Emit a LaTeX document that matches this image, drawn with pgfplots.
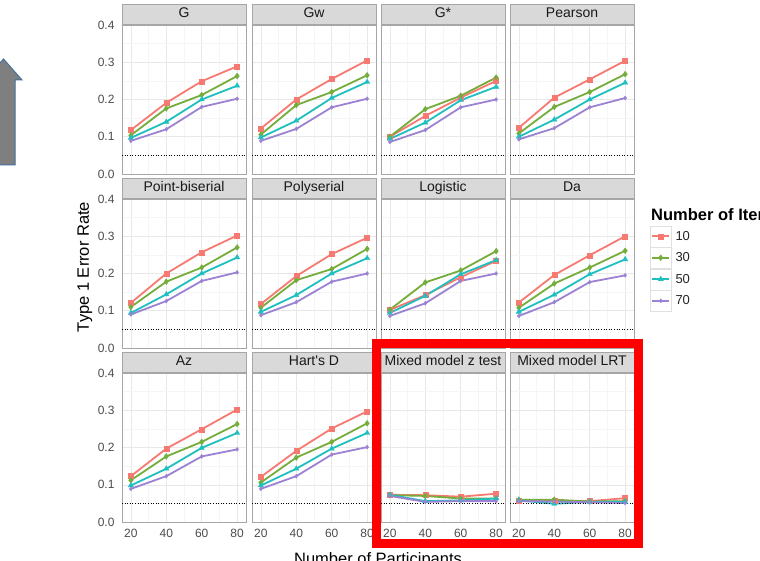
\documentclass[border=0pt]{standalone}
\usepackage{pgfplots}
\pgfplotsset{compat=1.18}
\usepackage{pgfplotstable}
\usepackage{fontspec}
\setmainfont{Liberation Sans}

\definecolor{c10}{HTML}{F77A72}
\definecolor{c30}{HTML}{74AD3A}
\definecolor{c50}{HTML}{1FBFC0}
\definecolor{c70}{HTML}{9C82D2}
\definecolor{arrowfill}{RGB}{127,127,127}
\definecolor{arrowdraw}{RGB}{65,113,156}

\pgfplotstableread{
x a b c d
20 0.118 0.104 0.097 0.089
40 0.191 0.176 0.140 0.120
60 0.249 0.212 0.200 0.180
80 0.289 0.263 0.237 0.202
}\tG
\pgfplotstableread{
x a b c d
20 0.122 0.106 0.098 0.089
40 0.200 0.185 0.143 0.121
60 0.255 0.220 0.204 0.179
80 0.305 0.265 0.247 0.202
}\tGw
\pgfplotstableread{
x a b c d
20 0.100 0.100 0.094 0.086
40 0.156 0.174 0.138 0.118
60 0.205 0.210 0.198 0.179
80 0.250 0.259 0.234 0.200
}\tGstar
\pgfplotstableread{
x a b c d
20 0.124 0.109 0.100 0.093
40 0.205 0.180 0.146 0.123
60 0.254 0.220 0.200 0.179
80 0.304 0.268 0.245 0.204
}\tPearson
\pgfplotstableread{
x a b c d
20 0.121 0.110 0.094 0.090
40 0.200 0.178 0.144 0.126
60 0.257 0.216 0.200 0.180
80 0.302 0.270 0.243 0.203
}\tPB
\pgfplotstableread{
x a b c d
20 0.118 0.108 0.097 0.088
40 0.193 0.182 0.142 0.123
60 0.252 0.212 0.200 0.178
80 0.296 0.266 0.241 0.200
}\tPoly
\pgfplotstableread{
x a b c d
20 0.102 0.103 0.094 0.086
40 0.142 0.176 0.140 0.120
60 0.190 0.208 0.198 0.180
80 0.234 0.260 0.236 0.200
}\tLogistic
\pgfplotstableread{
x a b c d
20 0.122 0.108 0.097 0.086
40 0.196 0.173 0.143 0.123
60 0.249 0.216 0.198 0.177
80 0.300 0.261 0.238 0.195
}\tDa
\pgfplotstableread{
x a b c d
20 0.123 0.112 0.098 0.089
40 0.197 0.176 0.143 0.123
60 0.249 0.215 0.199 0.176
80 0.302 0.263 0.239 0.195
}\tAz
\pgfplotstableread{
x a b c d
20 0.121 0.106 0.098 0.089
40 0.191 0.173 0.143 0.123
60 0.251 0.215 0.197 0.181
80 0.297 0.265 0.239 0.201
}\tHart
\pgfplotstableread{
x a b c d
20 0.073 0.072 0.073 0.070
40 0.072 0.070 0.056 0.054
60 0.068 0.063 0.058 0.056
80 0.076 0.063 0.063 0.056
}\tMZ
\pgfplotstableread{
x a b c d
20 0.058 0.060 0.058 0.056
40 0.056 0.060 0.049 0.055
60 0.056 0.055 0.054 0.053
80 0.064 0.056 0.054 0.051
}\tLRT

\pgfplotsset{
  s10/.style={color=c10, line width=1.8pt, mark=square*, mark size=2.5pt, mark options={solid, line width=0.4pt}},
  s30/.style={color=c30, line width=1.8pt, mark=diamond*, mark size=2.9pt, mark options={solid, line width=0.4pt}},
  s50/.style={color=c50, line width=1.8pt, mark=triangle*, mark size=3.0pt, mark options={solid, line width=0.4pt}},
  s70/.style={color=c70, line width=1.8pt, mark=diamond*, mark size=2.0pt, mark options={solid, line width=0.4pt}},
  hl/.style={black, line width=1pt, dash pattern=on 1pt off 1.6pt, mark=none},
  every axis title shift=0pt,
  panel/.style={
    scale only axis, width=124pt, height=149pt, anchor=south west,
    xmin=15, xmax=85, ymin=0, ymax=0.4,
    xtick={20,40,60,80}, ytick={0,0.1,0.2,0.3,0.4},
    minor xtick={30,50,70}, minor ytick={0.05,0.15,0.25,0.35},
    grid=both,
    major grid style={black!9, line width=0.5pt},
    minor grid style={black!4, line width=0.4pt},
    axis line style={black!35, line width=0.6pt},
    xticklabels={}, yticklabels={},
    major tick length=4pt, minor tick length=0pt,
    tick align=outside,
    xtick style={draw=none}, ytick style={draw=none},
    /pgf/number format/assume math mode=true,
    ticklabel style={font=\fontsize{12}{12}\selectfont, text=black!70},
    title style={at={(0.5,1)}, anchor=south, yshift=0pt,
      fill=black!15, draw=black!35, line width=0.6pt,
      minimum width=124pt, minimum height=20.5pt, inner sep=0pt,
      text height=10pt, text depth=3pt,
      font=\fontsize{14}{14}\selectfont, text=black!90},
    legend image code/.code={
      \draw[black!12, fill=white, line width=0.5pt] (0pt,-10.5pt) rectangle (21pt,10.5pt);
      \draw[mark repeat=2, mark phase=2, ##1] plot coordinates {(2pt,0pt) (10.5pt,0pt) (19pt,0pt)};
    },
  },
  leftcol/.style={yticklabels={0.0,0.1,0.2,0.3,0.4}, ytick style={black!45, line width=0.6pt}},
  bottomrow/.style={xticklabels={20,40,60,80}, xtick style={black!45, line width=0.6pt}},
}

\newcommand{\panel}[6]{%
\begin{axis}[panel, at={(#3pt,#4pt)}, title={#5}, #6]
\addplot[s10] table[x=x,y=a]{#2};
\addplot[s30] table[x=x,y=b]{#2};
\addplot[s50] table[x=x,y=c]{#2};
\addplot[s70] table[x=x,y=d]{#2};
\addplot[hl] coordinates {(15,0.05) (85,0.05)};
\end{axis}}

\begin{document}
\begin{tikzpicture}
\useasboundingbox (0pt,0pt) rectangle (760pt,560pt);
\clip (0pt,0pt) rectangle (760pt,560pt);
\fill[white] (0pt,0pt) rectangle (760pt,560pt);

% arrow on the left
\filldraw[fill=arrowfill, draw=arrowdraw, line width=1pt]
  (3.5pt,501pt) -- (22pt,480pt) -- (15pt,480pt) -- (15pt,395pt) -- (-8pt,395pt) -- (-8pt,480pt) -- (-15pt,480pt) -- cycle;

% row 1
\panel{G}{\tG}{122}{386}{G}{leftcol}
\panel{Gw}{\tGw}{252}{386}{Gw}{}
\panel{Gstar}{\tGstar}{381}{386}{G*}{}
\panel{Pearson}{\tPearson}{510}{386}{Pearson}{}
% row 2
\panel{PB}{\tPB}{122}{212}{Point-biserial}{leftcol}
\panel{Poly}{\tPoly}{252}{212}{Polyserial}{}
\panel{Logistic}{\tLogistic}{381}{212}{Logistic}{}
\panel{Da}{\tDa}{510}{212}{Da}{legend entries={10,30,50,70},
  legend style={at={(axis description cs:1.129,0.822)}, anchor=north west,
    draw=none, fill=none, inner sep=0pt, outer sep=0pt, row sep=0pt,
    font=\fontsize{13}{13}\selectfont, text=black!85,
    /tikz/every odd column/.style={column sep=2pt}},
  legend cell align=left}
% row 3
\panel{Az}{\tAz}{122}{38}{Az}{leftcol,bottomrow}
\panel{Hart}{\tHart}{252}{38}{Hart\textquotesingle s D}{bottomrow}
\panel{MZ}{\tMZ}{381}{38}{Mixed model z test}{bottomrow}
\panel{LRT}{\tLRT}{510}{38}{Mixed model LRT}{bottomrow}

% legend title
\node[anchor=base west, inner sep=0pt, font=\bfseries\fontsize{16.5}{16.5}\selectfont] at (651pt,339pt) {Number of Items};

% axis titles
\node[rotate=90, inner sep=0pt, font=\fontsize{16.5}{16.5}\selectfont] at (85pt,293pt) {Type 1 Error Rate};
\node[anchor=base, inner sep=0pt, font=\fontsize{16.5}{16.5}\selectfont] at (378pt,-4pt) {Number of Participants};

% red highlight box
\draw[red, line width=9pt] (376.5pt,216pt) rectangle (638.5pt,16.5pt);
\end{tikzpicture}
\end{document}
